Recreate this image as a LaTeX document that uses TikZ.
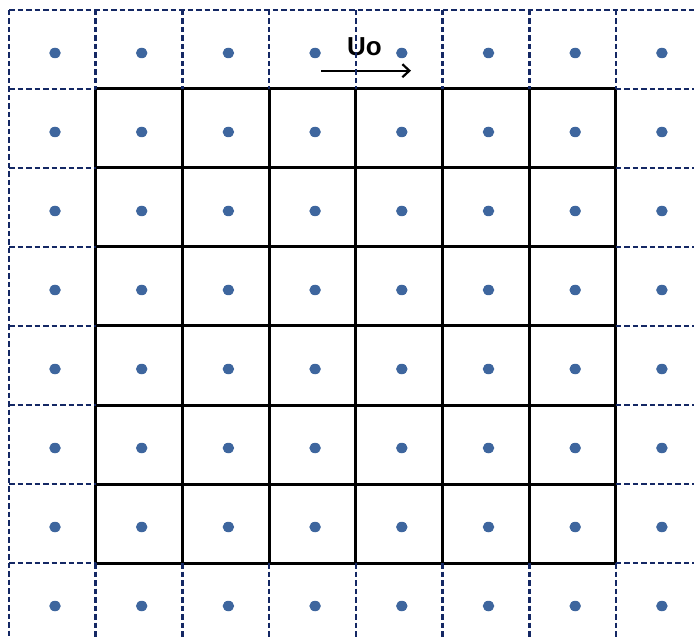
\documentclass[tikz,border=0pt]{standalone}
\usepackage{fontspec}
\setmainfont{Liberation Sans}
\usetikzlibrary{arrows.meta,shapes.geometric}
\definecolor{navy}{RGB}{20,40,100}
\definecolor{dotblue}{RGB}{62,102,158}
\begin{document}
\begin{tikzpicture}[x=1pt,y=-1pt,
  dashline/.style={navy,line width=2.6pt,dash pattern=on 5.5pt off 3pt},
  solidline/.style={black,line width=3pt},
  dot/.style={ellipse,fill=dotblue,inner sep=0pt,minimum width=11.5pt,minimum height=10.5pt},
  flow/.style={black,line width=2.2pt,-{Straight Barb[length=7pt,width=13pt,line width=2.2pt]}},
  lbl/.style={font=\bfseries\fontsize{26}{26}\selectfont,inner sep=0pt,anchor=base west}]
\useasboundingbox (0,0) rectangle (694,639);
% dots
\foreach \i in {0,...,7}
  \foreach \j in {0,...,7}
    \node[dot] (d\i\j) at ({55+86.7*\i},{53+79*\j}) {};
% label and arrow
\node[lbl] (u0) at (347,56) {Uo};
\coordinate (a0) at (321,70.7);
\coordinate (a1) at (411,70.7);
\draw[flow] (a0) -- (a1);
% solid inner grid
\foreach \k in {0,...,6} {
  \draw[solidline] ({95.7+86.7*\k},89) -- ({95.7+86.7*\k},563);
  \draw[solidline] (95.7,{89+79*\k}) -- (615.9,{89+79*\k});
}
% dashed outer ring
\draw[dashline] (9,10) -- (694,10);
\draw[dashline] (9,10) -- (9,639);
\foreach \k in {1,...,7} {
  \draw[dashline] ({9+86.7*\k},10) -- ({9+86.7*\k},89);
  \draw[dashline] ({9+86.7*\k},563) -- ({9+86.7*\k},639);
  \draw[dashline] (9,{10+79*\k}) -- (95.7,{10+79*\k});
  \draw[dashline] (615.9,{10+79*\k}) -- (694,{10+79*\k});
}
\end{tikzpicture}
\end{document}
